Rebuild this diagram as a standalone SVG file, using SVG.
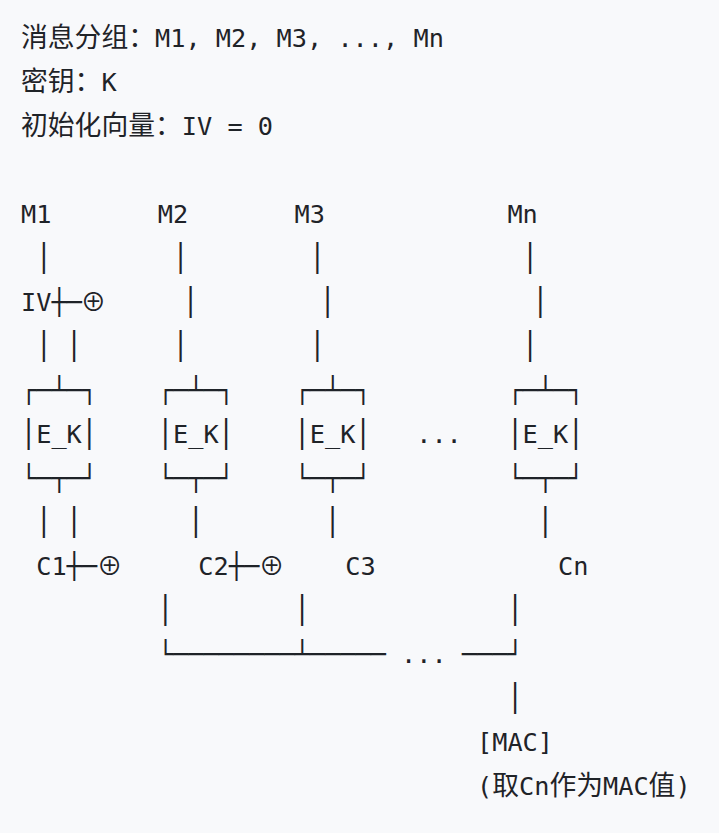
<svg xmlns="http://www.w3.org/2000/svg" width="719" height="833" viewBox="0 0 719 833">
<style>
text{fill:#1f2328;white-space:pre}
.m{font-family:"DejaVu Sans Mono","Liberation Mono",monospace;font-size:25.25px}
.p{font-family:"DejaVu Sans Mono","Liberation Mono",monospace;font-size:25.25px;text-anchor:middle}
.c{font-family:"Noto Sans CJK SC","DejaVu Sans",sans-serif;font-size:26.8px}
.x{font-family:"Noto Sans CJK SC","DejaVu Sans",sans-serif;font-size:25.3px;text-anchor:middle}
</style>
<defs>
<text id="bar" class="p" transform="scale(1,1.24)">|</text>
</defs>
<rect width="719" height="833" fill="#f8f9fb"/>
<g id="header">
<text x="21" y="47" class="c">消息分组：</text><text x="155" y="47" class="m" xml:space="preserve">M1, M2, M3, ..., Mn</text>
<text x="21" y="91" class="c">密钥：</text><text x="101.4" y="91" class="m">K</text>
<text x="21" y="135" class="c">初始化向量：</text><text x="181.8" y="135" class="m" xml:space="preserve">IV = 0</text>
</g>
<g id="node-M1"><text x="21" y="223" class="m">M1</text></g>
<g id="node-M2"><text x="157.8" y="223" class="m">M2</text></g>
<g id="node-M3"><text x="294.6" y="223" class="m">M3</text></g>
<g id="node-Mn"><text x="507.4" y="223" class="m">Mn</text></g>
<g id="node-IV"><text x="21" y="311" class="m">IV</text></g>
<g id="xor-1"><text x="93.5" y="311" class="x">⊕</text></g>
<g id="node-EK1"><text x="21" y="399" class="m">┌─┴─┐</text><use href="#bar" x="28.6" y="441.5"/><text x="36.2" y="443" class="m">E_K</text><use href="#bar" x="89.4" y="441.5"/><text x="21" y="487" class="m">└─┬─┘</text></g>
<g id="node-EK2"><text x="157.8" y="399" class="m">┌─┴─┐</text><use href="#bar" x="165.4" y="441.5"/><text x="173" y="443" class="m">E_K</text><use href="#bar" x="226.2" y="441.5"/><text x="157.8" y="487" class="m">└─┬─┘</text></g>
<g id="node-EK3"><text x="294.6" y="399" class="m">┌─┴─┐</text><use href="#bar" x="302.2" y="441.5"/><text x="309.8" y="443" class="m">E_K</text><use href="#bar" x="363" y="441.5"/><text x="294.6" y="487" class="m">└─┬─┘</text></g>
<g id="ellipsis-1"><text x="416.2" y="443" class="m">...</text></g>
<g id="node-EKn"><text x="507.4" y="399" class="m">┌─┴─┐</text><use href="#bar" x="515" y="441.5"/><text x="522.6" y="443" class="m">E_K</text><use href="#bar" x="575.8" y="441.5"/><text x="507.4" y="487" class="m">└─┬─┘</text></g>
<g id="node-C1"><text x="36.2" y="575" class="m">C1</text></g>
<g id="xor-2"><text x="109.6" y="575" class="x">⊕</text></g>
<g id="node-C2"><text x="198.3" y="575" class="m">C2</text></g>
<g id="xor-3"><text x="271.7" y="575" class="x">⊕</text></g>
<g id="node-C3"><text x="345.2" y="575" class="m">C3</text></g>
<g id="node-Cn"><text x="558" y="575" class="m">Cn</text></g>
<g id="node-MAC"><text x="477" y="751" class="m">[MAC]</text>
<text x="477" y="795" class="m">(</text><text x="492.2" y="795" class="c">取</text><text x="519" y="795" class="m">Cn</text><text x="549.4" y="795" class="c">作为</text><text x="603" y="795" class="m">MAC</text><text x="648.6" y="795" class="c">值</text><text x="675.4" y="795" class="m">)</text></g>
<g id="connectors">
<use href="#bar" x="43.8" y="265.5"/><use href="#bar" x="180.6" y="265.5"/><use href="#bar" x="317.4" y="265.5"/><use href="#bar" x="530.2" y="265.5"/>
<text x="51.4" y="311" class="m">┼─</text><use href="#bar" x="190.7" y="309.5"/><use href="#bar" x="327.5" y="309.5"/><use href="#bar" x="540.3" y="309.5"/>
<use href="#bar" x="43.8" y="353.5"/><use href="#bar" x="74.2" y="353.5"/><use href="#bar" x="180.6" y="353.5"/><use href="#bar" x="317.4" y="353.5"/><use href="#bar" x="530.2" y="353.5"/>
<use href="#bar" x="43.8" y="529.5"/><use href="#bar" x="74.2" y="529.5"/><use href="#bar" x="195.8" y="529.5"/><use href="#bar" x="332.6" y="529.5"/><use href="#bar" x="545.4" y="529.5"/>
<text x="66.6" y="575" class="m">┼─</text><text x="228.7" y="575" class="m">┼─</text>
<use href="#bar" x="165.4" y="617.5"/><use href="#bar" x="302.2" y="617.5"/><use href="#bar" x="515" y="617.5"/>
<text x="157.8" y="663" class="m">└────────┴─────</text><text x="401" y="663" class="m">...</text><text x="461.8" y="663" class="m">───┘</text>
<use href="#bar" x="515" y="705.5"/>
</g>
</svg>
